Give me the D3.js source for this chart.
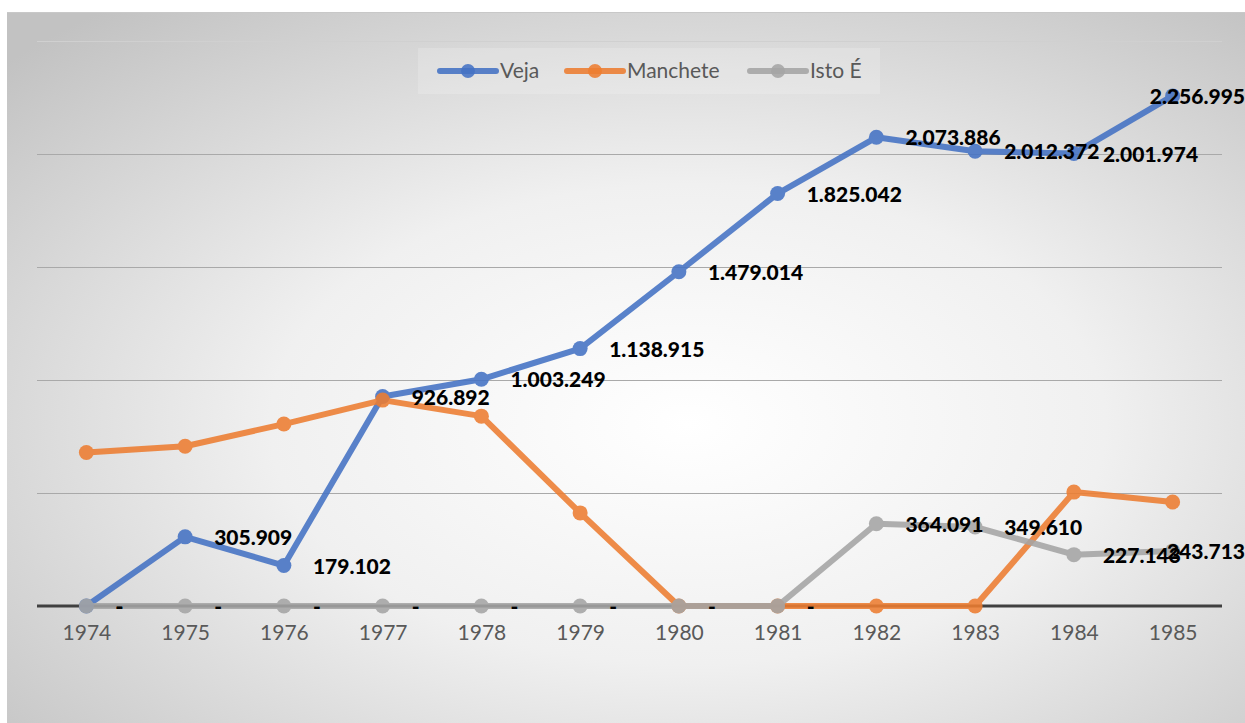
<!DOCTYPE html>
<html>
<head>
<meta charset="utf-8">
<script src="https://cdn.jsdelivr.net/npm/d3@7"></script>
<style>
    * { margin: 0; padding: 0; }
    body { background: #fff; overflow: hidden; }
</style>
</head>
<body>
<div id="chart"></div>
<script>
    // data
    const years = ['1974', '1975', '1976', '1977', '1978', '1979', '1980', '1981', '1982', '1983', '1984', '1985']
    const veja = [0, 305909, 179102, 926892, 1003249, 1138915, 1479014, 1825042, 2073886, 2012372, 2001974, 2256995]
    const manchete = [679000, 707000, 805000, 911000, 840000, 412000, 0, 0, 0, 0, 504000, 460000]
    const istoE = [0, 0, 0, 0, 0, 0, 0, 0, 364091, 349610, 227143, 243713]
    const gridTicks = [500000, 1000000, 1500000, 2000000, 2500000]

    const series = [
        { name: 'Veja', values: veja, color: '#4472C4', labels: true },
        { name: 'Manchete', values: manchete, color: '#ED7D31', labels: false },
        { name: 'Isto É', values: istoE, color: '#A5A5A5', labels: true }
    ]

    const W = 1245, H = 723
    const svg = d3.select('#chart').append('svg')
        .attr('width', W).attr('height', H)

    // background with soft radial shading
    const defs = svg.append('defs')
    const grad = defs.append('radialGradient').attr('id', 'bg')
        .attr('cx', '55%').attr('cy', '58%').attr('r', '75%')
    grad.append('stop').attr('offset', '0%').attr('stop-color', '#ffffff')
    grad.append('stop').attr('offset', '45%').attr('stop-color', '#f0f0f0')
    grad.append('stop').attr('offset', '100%').attr('stop-color', '#c2c2c2')

    svg.append('rect')
        .attr('x', 7).attr('y', 12).attr('width', W - 7).attr('height', H - 12)
        .attr('fill', 'url(#bg)')
    svg.append('line')
        .attr('x1', 7).attr('x2', W).attr('y1', 12.5).attr('y2', 12.5)
        .attr('stroke', '#c8c8c8').attr('stroke-width', 1)

    const x = d3.scalePoint().domain(years).range([37, 1222]).padding(0.5)
    const y = d3.scaleLinear().domain([0, 2500000]).range([606, 41])

    // gridlines
    svg.append('g').selectAll('line').data(gridTicks).join('line')
        .attr('x1', 37).attr('x2', 1222)
        .attr('y1', d => Math.round(y(d)) + 0.5).attr('y2', d => Math.round(y(d)) + 0.5)
        .attr('stroke', d => d === 2500000 ? '#d0d0d0' : '#a9a9a9').attr('stroke-width', 1.2)

    // x axis
    const xAxis = svg.append('g')
        .attr('transform', `translate(0,${y(0)})`)
        .call(d3.axisBottom(x).tickSize(0).tickPadding(19))
    xAxis.select('.domain').attr('d', 'M37,0H1222').attr('stroke', '#404040').attr('stroke-width', 3)
    xAxis.selectAll('text')
        .attr('font-family', 'Lato, sans-serif').attr('font-size', 21).attr('fill', '#595959')

    // lines and markers
    const line = d3.line().x((d, i) => x(years[i])).y(d => y(d))
    series.forEach(s => {
        const g = svg.append('g').attr('opacity', 0.88)
        g.append('path').datum(s.values)
            .attr('d', line)
            .attr('fill', 'none').attr('stroke', s.color)
            .attr('stroke-width', 6).attr('stroke-linejoin', 'round').attr('stroke-linecap', 'round')
        g.selectAll('circle').data(s.values).join('circle')
            .attr('cx', (d, i) => x(years[i])).attr('cy', d => y(d)).attr('r', 7.5)
            .attr('fill', s.color)
    })

    // data labels
    const fmt = v => v === 0 ? '-' : d3.format(',')(v).replace(/,/g, '.')
    const labels = svg.append('g')
    series.filter(s => s.labels).forEach(s => {
        s.values.forEach((v, i) => {
            const t = labels.append('text')
                .attr('x', x(years[i]) + 29).attr('y', y(v) + 8)
                .attr('font-family', 'Lato, sans-serif').attr('font-weight', 900)
                .attr('font-size', 21).attr('fill', '#000')
                .text(fmt(v))
            const w = t.node().getComputedTextLength()
            if (x(years[i]) + 29 + w > W) t.attr('x', W - w)
        })
    })

    // legend
    const legend = svg.append('g')
    legend.append('rect')
        .attr('x', 418).attr('y', 48).attr('width', 462).attr('height', 46)
        .attr('fill', '#fff').attr('opacity', 0.18)
    const legX = [440, 567, 750]
    series.forEach((s, i) => {
        const lg = legend.append('g').attr('transform', `translate(${legX[i]},71)`)
        lg.append('line').attr('x1', 0).attr('x2', 56).attr('stroke', s.color)
            .attr('stroke-width', 6).attr('stroke-linecap', 'round').attr('opacity', 0.88)
        lg.append('circle').attr('cx', 28).attr('r', 7).attr('fill', s.color).attr('opacity', 0.88)
        lg.append('text').attr('x', 60).attr('y', 7)
            .attr('font-family', 'Lato, sans-serif').attr('font-size', 21).attr('fill', '#595959')
            .text(s.name)
    })
</script>
</body>
</html>
